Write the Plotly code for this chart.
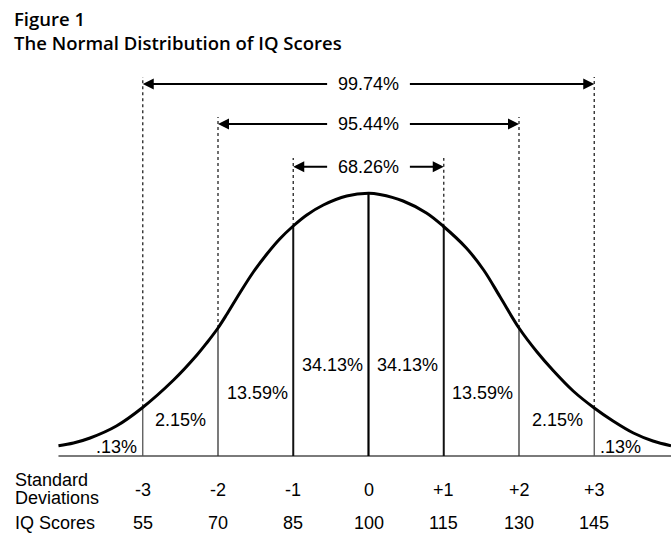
import plotly.graph_objects as go
import numpy as np

# ---------------- data ----------------
sd_values = [-3, -2, -1, 0, 1, 2, 3]
sd_labels = ["-3", "-2", "-1", "0", "+1", "+2", "+3"]
iq_scores = [55, 70, 85, 100, 115, 130, 145]

# curve (x in SD units, y = height of curve in relative units)
curve_x = [-4.12, -3.92, -3.70, -3.35, -3.01, -2.59, -2.28, -2.15, -2.00, -1.88, -1.71,
           -1.53, -1.35, -1.18, -1.00, -0.82, -0.60, -0.29, 0.00, 0.15, 0.46, 0.77,
           0.99, 1.30, 1.53, 1.75, 2.00, 2.24, 2.46, 2.72, 3.00, 3.25, 3.52, 3.78, 4.02]
curve_y = [10.3, 13, 18, 30, 48, 76, 101, 113, 128, 142, 163,
           184, 202, 217, 230, 241, 251, 260, 262.7, 261.5, 255, 243,
           230, 208, 186, 159, 128, 104, 85, 65, 48, 35, 23, 15, 10.3]

# area percentages between standard deviations
pct_labels = [".13%", "2.15%", "13.59%", "34.13%", "34.13%", "13.59%", "2.15%", ".13%"]
# coverage ranges
range_labels = ["68.26%", "95.44%", "99.74%"]
range_sd = [1, 2, 3]

title_lines = ["Figure 1", "The Normal Distribution of IQ Scores"]

# ---------------- layout helpers (positions) ----------------
PX_PER_SD = 75.25
CENTER_PX = 368.5
BASE_PY = 456
W, H = 671, 533

def sd_at(px):
    return (px - CENTER_PX) / PX_PER_SD

def h_at(py):
    return BASE_PY - py

curve_at_sd = np.interp(sd_values, curve_x, curve_y)

pct_x = [sd_at(p) for p in [116, 180, 257, 332, 407, 482, 557, 620]]
pct_y = [h_at(p) for p in [447, 420, 393, 365, 365, 393, 420, 447]]
range_y = [h_at(p) for p in [166.7, 124, 84]]
dash_top = [h_at(p) for p in [158, 117, 77]]
gap = 0.53

font_main = "Liberation Sans, Arial, sans-serif"
fig = go.Figure()

# baseline
fig.add_trace(go.Scatter(x=[curve_x[0], curve_x[-1]], y=[0, 0], mode="lines",
                         line=dict(color="#7a7a7a", width=2), hoverinfo="skip"))

# solid vertical lines from baseline to the curve
widths = {0: 2.2, 1: 2.0, 2: 1.3, 3: 1.3}
colors = {0: "#000", 1: "#111", 2: "#333", 3: "#555"}
for sd, ch in zip(sd_values, curve_at_sd):
    fig.add_trace(go.Scatter(x=[sd, sd], y=[0, ch], mode="lines",
                             line=dict(color=colors[abs(sd)], width=widths[abs(sd)]),
                             hoverinfo="skip"))

# dashed vertical lines above the curve
for sd, ch in zip(sd_values, curve_at_sd):
    if sd == 0:
        continue
    top = dash_top[abs(sd) - 1]
    fig.add_trace(go.Scatter(x=[sd, sd], y=[ch, top], mode="lines",
                             line=dict(color="#333", width=1.4, dash="3px,3px"),
                             hoverinfo="skip"))

# the curve
fig.add_trace(go.Scatter(x=curve_x, y=curve_y, mode="lines",
                         line=dict(color="#000", width=3, shape="spline", smoothing=1.0),
                         hoverinfo="skip"))

ann = []
# range arrows with labels
for lab, k, y in zip(range_labels, range_sd, range_y):
    ann.append(dict(x=0, y=y, text=lab, showarrow=False, xref="x", yref="y",
                    font=dict(family=font_main, size=18, color="#000")))
    for sign in (-1, 1):
        ann.append(dict(x=sign * k, y=y, ax=sign * gap, ay=y, xref="x", yref="y",
                        axref="x", ayref="y", text="", showarrow=True,
                        arrowhead=2, arrowsize=1.1, arrowwidth=2, arrowcolor="#000"))

# percentage labels
for lab, x, y in zip(pct_labels, pct_x, pct_y):
    ann.append(dict(x=x, y=y, text=lab, showarrow=False, xref="x", yref="y",
                    font=dict(family=font_main, size=18, color="#000")))

# SD labels and IQ labels
for sd, lab, iq in zip(sd_values, sd_labels, iq_scores):
    ann.append(dict(x=sd, y=h_at(490), text=lab, showarrow=False, xref="x", yref="y",
                    yanchor="middle", font=dict(family=font_main, size=18, color="#000")))
    ann.append(dict(x=sd, y=h_at(523), text=str(iq), showarrow=False, xref="x", yref="y",
                    yanchor="middle", font=dict(family=font_main, size=18, color="#000")))

# row labels
for txt, py in [("Standard", 480), ("Deviations", 497.5), ("IQ Scores", 523)]:
    ann.append(dict(x=13 / W, y=1 - py / H, xref="paper", yref="paper", text=txt,
                    xanchor="left", yanchor="middle", showarrow=False,
                    font=dict(family=font_main, size=18, color="#000")))

# title block (two lines)
ann.append(dict(x=12 / W, y=1 - 31 / H, xref="paper", yref="paper",
                text="<br>".join(title_lines), align="left",
                xanchor="left", yanchor="middle", showarrow=False,
                font=dict(family="Open Sans, sans-serif", size=18.5, color="#000",
                          weight=600)))

fig.update_layout(
    width=W, height=H, autosize=False,
    margin=dict(l=0, r=0, t=0, b=0, pad=0),
    paper_bgcolor="white", plot_bgcolor="white",
    showlegend=False,
    xaxis=dict(range=[sd_at(0), sd_at(W)], visible=False, fixedrange=True),
    yaxis=dict(range=[h_at(H), h_at(0)], visible=False, fixedrange=True),
    annotations=ann,
)

fig.write_html("out.html", post_script="document.body.style.margin='0px';",
               config={"displayModeBar": False})
